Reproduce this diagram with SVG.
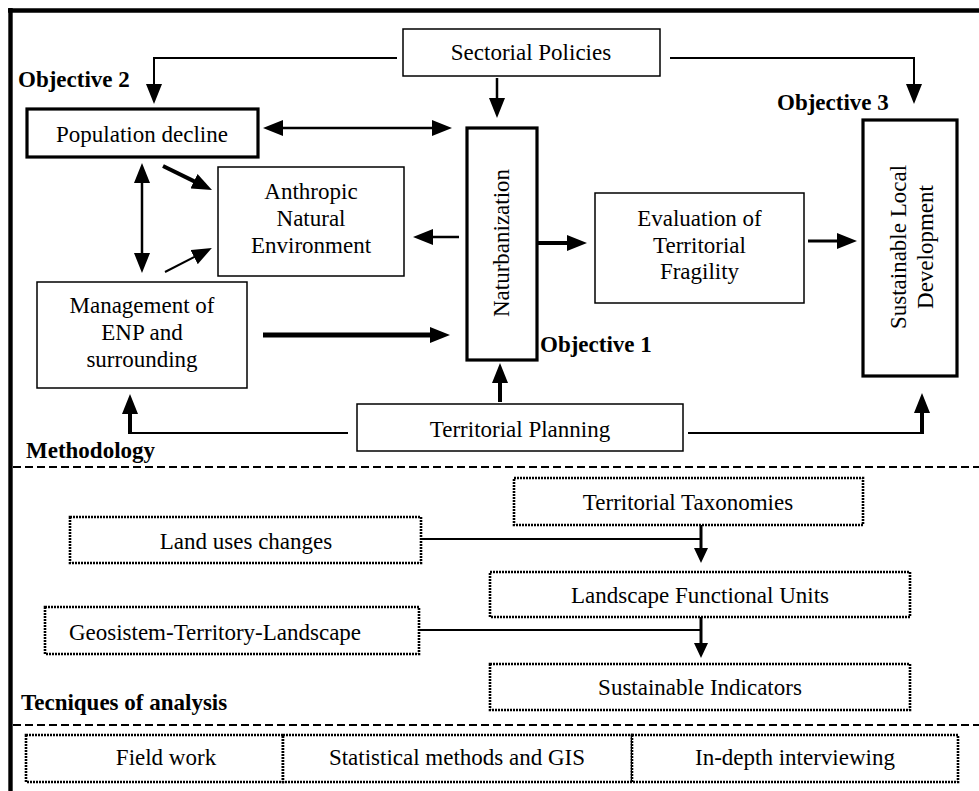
<svg xmlns="http://www.w3.org/2000/svg" width="979" height="791" viewBox="0 0 979 791">
<style>
text{font-family:"Liberation Serif","Times New Roman",serif;font-size:23px;fill:#000}
.c{text-anchor:middle}
.b{font-weight:bold}
.box{fill:#fff;stroke:#000;stroke-width:1.5}
.tbox{fill:#fff;stroke:#000;stroke-width:3.2}
.dbox{fill:#fff;stroke:#000;stroke-width:2.6;stroke-dasharray:2 1}
.sep{stroke:#000;stroke-width:2;stroke-dasharray:8 4;fill:none}
.ln{fill:none;stroke:#000}
</style>
<defs>
<marker id="ah" markerUnits="userSpaceOnUse" markerWidth="20" markerHeight="16" viewBox="0 0 20 16" refX="10" refY="8" orient="auto-start-reverse"><path d="M0,0 L20,8 L0,16 z" fill="#000"/></marker>
<marker id="as" markerUnits="userSpaceOnUse" markerWidth="15" markerHeight="14" viewBox="0 0 15 14" refX="7" refY="7" orient="auto-start-reverse"><path d="M0,0 L15,7 L0,14 z" fill="#000"/></marker>
</defs>
<rect width="979" height="791" fill="#fff"/>
<g id="frame">
<line x1="8" y1="10.5" x2="979" y2="10.5" stroke="#000" stroke-width="4.4"/>
<line x1="10.5" y1="8" x2="10.5" y2="791" stroke="#000" stroke-width="4.4"/>
<line class="sep" x1="13" y1="467" x2="979" y2="467"/>
<line class="sep" x1="13" y1="725" x2="979" y2="725"/>
<text class="b" x="18" y="87">Objective 2</text>
<text class="b" x="777" y="110">Objective 3</text>
<text class="b" x="540" y="352">Objective 1</text>
<text class="b" x="26" y="458">Methodology</text>
<text class="b" x="21" y="710">Tecniques of analysis</text>
</g>
<g id="connectors">
<path class="ln" stroke-width="2" d="M397,58 H154 V94" marker-end="url(#ah)"/>
<path class="ln" stroke-width="2" d="M670,58 H914 V94" marker-end="url(#ah)"/>
<path class="ln" stroke-width="2.5" d="M497,78 V108" marker-end="url(#ah)"/>
<path class="ln" stroke-width="2.5" d="M273,128 H442" marker-start="url(#ah)" marker-end="url(#ah)"/>
<path class="ln" stroke-width="4" d="M163,166 L203,185.6" marker-end="url(#ah)"/>
<path class="ln" stroke-width="2.5" d="M142,173 V263" marker-start="url(#ah)" marker-end="url(#ah)"/>
<path class="ln" stroke-width="2" d="M165,272 L203,252.5" marker-end="url(#ah)"/>
<path class="ln" stroke-width="2.5" d="M459,237 H423" marker-end="url(#ah)"/>
<path class="ln" stroke-width="5" d="M263,335 H440" marker-end="url(#ah)"/>
<path class="ln" stroke-width="4" d="M537,243 H577" marker-end="url(#ah)"/>
<path class="ln" stroke-width="3" d="M808,241 H847" marker-end="url(#ah)"/>
<path class="ln" stroke-width="4" d="M500,402 V373" marker-end="url(#ah)"/>
<path class="ln" stroke-width="2" d="M348,433 H130"/>
<path class="ln" stroke-width="4" d="M130,434 V404" marker-end="url(#ah)"/>
<path class="ln" stroke-width="2" d="M688,433 H922"/>
<path class="ln" stroke-width="4" d="M922,434 V403" marker-end="url(#ah)"/>
<path class="ln" stroke-width="2" d="M421,539 H701"/>
<path class="ln" stroke-width="3" d="M701,525 V555" marker-end="url(#as)"/>
<path class="ln" stroke-width="2" d="M419,630 H701"/>
<path class="ln" stroke-width="3" d="M701,617 V650" marker-end="url(#as)"/>
</g>
<g id="sectorial-policies">
<rect class="box" x="403" y="29" width="257" height="47"/>
<text class="c" x="531" y="60">Sectorial Policies</text>
</g>
<g id="population-decline">
<rect class="tbox" x="27" y="109" width="231" height="48"/>
<text class="c" x="142" y="142">Population decline</text>
</g>
<g id="anthropic-natural-environment">
<rect class="box" x="218" y="167" width="186" height="109"/>
<text class="c" x="311" y="199">Anthropic</text>
<text class="c" x="311" y="226">Natural</text>
<text class="c" x="311" y="253">Environment</text>
</g>
<g id="naturbanization">
<rect class="tbox" x="467" y="128" width="70" height="232"/>
<text class="c" transform="translate(509,243) rotate(-90)" x="0" y="0">Naturbanization</text>
</g>
<g id="evaluation">
<rect class="box" x="595" y="193" width="209" height="110"/>
<text class="c" x="699.5" y="226">Evaluation of</text>
<text class="c" x="699.5" y="252.5">Territorial</text>
<text class="c" x="699.5" y="279">Fragility</text>
</g>
<g id="sustainable-local-development">
<rect class="tbox" x="863" y="120" width="94" height="256"/>
<text class="c" transform="translate(906,247) rotate(-90)" x="0" y="0">Sustainable Local</text>
<text class="c" transform="translate(933,247) rotate(-90)" x="0" y="0">Development</text>
</g>
<g id="management">
<rect class="box" x="37" y="282" width="210" height="106"/>
<text class="c" x="142" y="313">Management of</text>
<text class="c" x="142" y="340">ENP and</text>
<text class="c" x="142" y="367">surrounding</text>
</g>
<g id="territorial-planning">
<rect class="box" x="357" y="404" width="326" height="47"/>
<text class="c" x="520" y="437">Territorial Planning</text>
</g>
<g id="territorial-taxonomies">
<rect class="dbox" x="514" y="478" width="349" height="47"/>
<text class="c" x="688" y="510">Territorial Taxonomies</text>
</g>
<g id="land-uses-changes">
<rect class="dbox" x="70" y="517" width="351" height="46"/>
<text class="c" x="246" y="549">Land uses changes</text>
</g>
<g id="landscape-functional-units">
<rect class="dbox" x="490" y="572" width="420" height="45"/>
<text class="c" x="700" y="603">Landscape Functional Units</text>
</g>
<g id="geosistem">
<rect class="dbox" x="45" y="607" width="374" height="47"/>
<text class="c" x="215" y="640">Geosistem-Territory-Landscape</text>
</g>
<g id="sustainable-indicators">
<rect class="dbox" x="490" y="664" width="420" height="46"/>
<text class="c" x="700" y="695">Sustainable Indicators</text>
</g>
<g id="field-work">
<rect class="dbox" x="26" y="735" width="257" height="47"/>
<text class="c" x="166" y="765">Field work</text>
</g>
<g id="statistical-methods">
<rect class="dbox" x="283" y="735" width="349" height="47"/>
<text class="c" x="457" y="765">Statistical methods and GIS</text>
</g>
<g id="in-depth-interviewing">
<rect class="dbox" x="632" y="735" width="326" height="47"/>
<text class="c" x="795" y="765">In-depth interviewing</text>
</g>
</svg>
